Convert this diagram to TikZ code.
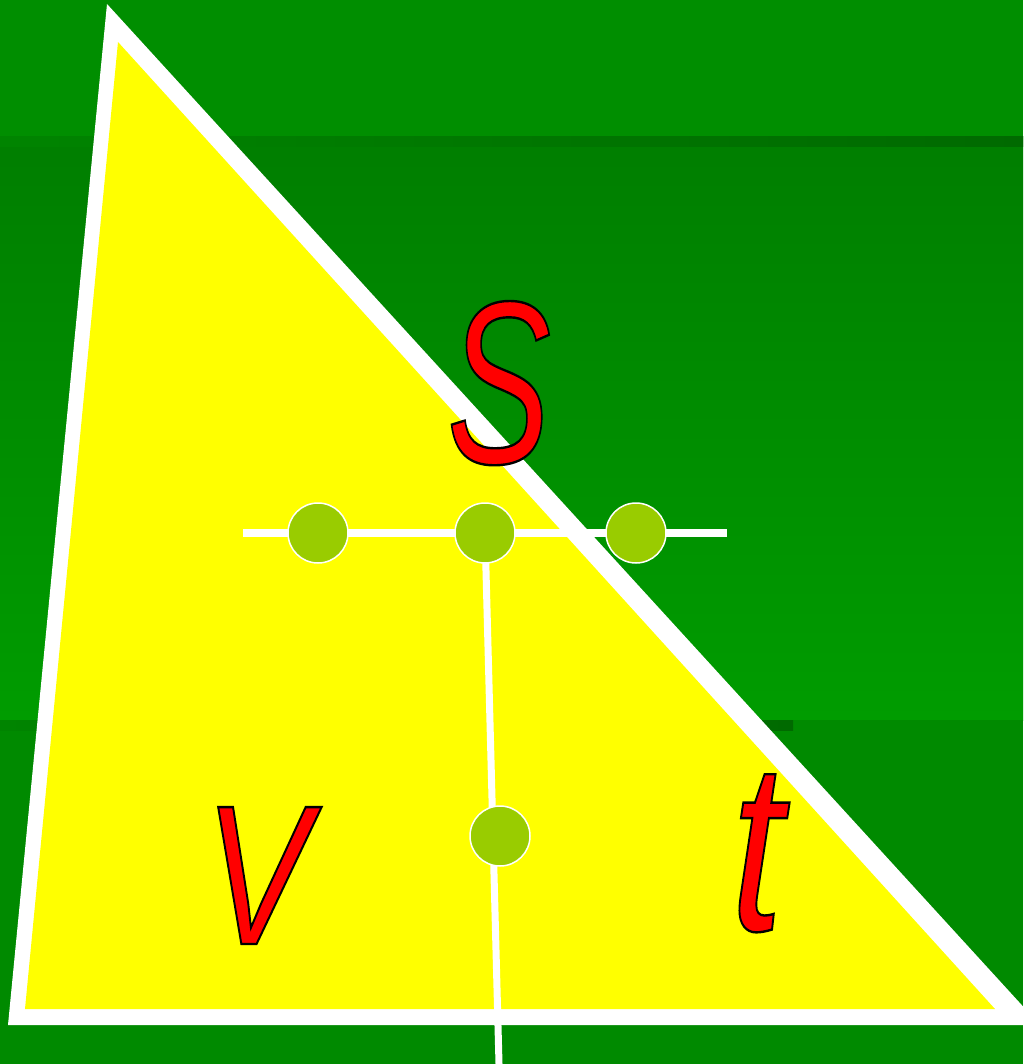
\documentclass[tikz,border=0pt]{standalone}
\usepackage{fontspec}
\newfontfamily\labfont{Liberation Sans}
\definecolor{bandtop}{HTML}{008E00}
\definecolor{bandmidA}{HTML}{007E00}
\definecolor{bandmidB}{HTML}{009C00}
\definecolor{bandbot}{HTML}{008A00}
\definecolor{stripA}{HTML}{008400}
\definecolor{stripB}{HTML}{006A00}
\definecolor{dotgreen}{HTML}{99CC00}
\definecolor{triyellow}{HTML}{FFFF00}
\newcommand{\outlined}[1]{{\color{red}\special{pdf:literal direct 2 Tr 2.4 w 0 0 0 RG}#1\special{pdf:literal direct 0 Tr}}}
\pgfdeclarelayer{bglayer}
\pgfdeclarelayer{wirelayer}
\pgfsetlayers{bglayer,wirelayer,main}
\tikzset{
  dotnode/.style={circle, minimum size=60pt, inner sep=0pt, fill=dotgreen, draw=white, line width=1.5pt},
  wireline/.style={draw=white, line width=8pt},
  stemline/.style={draw=white, line width=7pt},
  letter/.style={text=red, inner sep=0pt, anchor=base},
}
\begin{document}
\begin{tikzpicture}[x=1pt, y=-1pt]
\useasboundingbox (0,0) rectangle (1023,1064);
\clip (0,0) rectangle (1023,1064);
\begin{pgfonlayer}{bglayer}
% background bands
\fill[bandtop] (0,0) rectangle (1023,137);
\shade[top color=bandmidA, bottom color=bandmidB] (0,137) rectangle (1023,720);
\fill[bandbot] (0,720) rectangle (1023,1064);
\shade[left color=stripA, right color=stripB] (0,137) rectangle (1023,147);
\shade[left color=stripA, right color=stripB] (0,720) rectangle (793,730);
% triangle
\fill[white] (107,4) -- (8,1025) -- (1040,1025) -- cycle;
\fill[triyellow] (118,42) -- (25,1009) -- (995,1009) -- cycle;
\end{pgfonlayer}
% letters
\node[letter] (S) at (499,463) {\fontsize{232}{232}\selectfont\labfont\itshape\scalebox{0.67}[1]{\outlined{S}}};
\node[letter] (V) at (257,944) {\fontsize{199}{199}\selectfont\labfont\itshape\scalebox{0.79}[1]{\outlined{V}}};
\node[letter] (T) at (757,930) {\fontsize{241}{241}\selectfont\labfont\itshape\scalebox{0.78}[1]{\outlined{t}}};
% dots
\node[dotnode] (d1) at (318,533) {};
\node[dotnode] (d2) at (485,533) {};
\node[dotnode] (d3) at (636,533) {};
\node[dotnode] (d4) at (500,836) {};
% wires
\coordinate (hl) at (243,533);
\coordinate (hr) at (727,533);
\coordinate (vb) at (499,1064);
\begin{pgfonlayer}{wirelayer}
\draw[wireline] (hl) -- (hr);
\draw[stemline] (d2.center) -- (vb);
\end{pgfonlayer}
\end{tikzpicture}
\end{document}
